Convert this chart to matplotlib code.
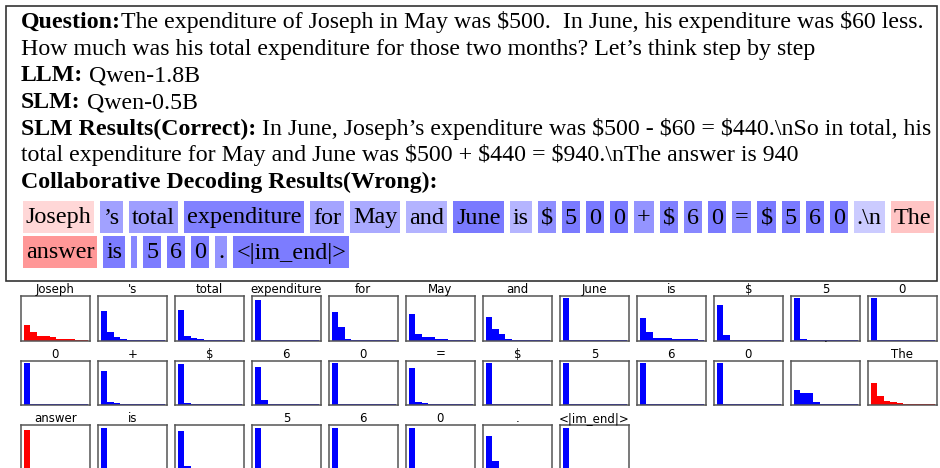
import numpy as np
import matplotlib.pyplot as plt
from matplotlib.patches import Rectangle

W, H = 940, 468
SERIF = 'Liberation Serif'

# header text
question = "The expenditure of Joseph in May was $500.  In June, his expenditure was $60 less."
question2 = "How much was his total expenditure for those two months? Let\u2019s think step by step"
llm_name = " Qwen-1.8B"
slm_name = " Qwen-0.5B"
slm_result1 = " In June, Joseph\u2019s expenditure was $500 - $60 = $440.\\nSo in total, his"
slm_result2 = "total expenditure for May and June was $500 + $440 = $940.\\nThe answer is 940"

# decoded tokens, which model produced them (L = LLM, S = SLM) and subplot titles
tokens = ["Joseph", "\u2019s", "total", "expenditure", "for", "May", "and", "June", "is",
          "$", "5", "0", "0", "+", "$", "6", "0", "=", "$", "5", "6", "0", ".\\n", "The",
          "answer", "is", " ", "5", "6", "0", ".", "<|im_end|>"]
source = "LSSSSSSSSSSSSSSSSSSSSSSLLSSSSSSS"
titles = ["Joseph", "'s", "total", "expenditure", "for", "May", "and", "June", "is",
          "$", "5", "0", "0", "+", "$", "6", "0", "=", "$", "5", "6", "0", ".\n", "The",
          "answer", "is", "", "5", "6", "0", ".", "<|im_end|>"]

# top-10 next token probabilities at every step
top10_probs = [
    [0.35, 0.19, 0.10, 0.10, 0.08, 0.03, 0.03, 0.03, 0.015, 0.015],
    [0.68, 0.19, 0.08, 0.03, 0.015, 0.015, 0.015, 0.015, 0.015, 0.015],
    [0.70, 0.10, 0.05, 0.03, 0.02, 0.015, 0.015, 0.015, 0.015, 0.015],
    [0.93, 0.015, 0.015, 0.015, 0.015, 0.015, 0.015, 0.015, 0.015, 0.015],
    [0.65, 0.31, 0.03, 0.015, 0.015, 0.015, 0.015, 0.015, 0.015, 0.015],
    [0.61, 0.15, 0.08, 0.08, 0.03, 0.03, 0.015, 0.015, 0.015, 0.015],
    [0.54, 0.26, 0.15, 0.03, 0.015, 0.015, 0.015, 0.015, 0.015, 0.015],
    [0.98, 0.015, 0.015, 0.015, 0.015, 0.015, 0.015, 0.015, 0.015, 0.015],
    [0.52, 0.19, 0.05, 0.05, 0.05, 0.03, 0.03, 0.03, 0.03, 0.015],
    [0.82, 0.12, 0.015, 0.015, 0.015, 0.015, 0.015, 0.015, 0.015, 0.015],
    [0.98, 0.025, 0.015, 0.015, 0.015, 0.015, 0.015, 0.015, 0.015, 0.015],
    [0.99, 0.015, 0.015, 0.015, 0.015, 0.015, 0.015, 0.015, 0.015, 0.015],
    [0.98, 0.015, 0.015, 0.015, 0.015, 0.015, 0.015, 0.015, 0.015, 0.015],
    [0.78, 0.08, 0.05, 0.03, 0.02, 0.02, 0.02, 0.02, 0.02, 0.015],
    [0.94, 0.05, 0.02, 0.02, 0.015, 0.015, 0.015, 0.015, 0.015, 0.015],
    [0.87, 0.12, 0.015, 0.015, 0.015, 0.015, 0.015, 0.015, 0.015, 0.015],
    [0.98, 0.015, 0.015, 0.015, 0.015, 0.015, 0.015, 0.015, 0.015, 0.015],
    [0.85, 0.08, 0.05, 0.02, 0.02, 0.015, 0.015, 0.015, 0.015, 0.015],
    [0.98, 0.025, 0.015, 0.015, 0.015, 0.015, 0.015, 0.015, 0.015, 0.015],
    [0.98, 0.03, 0.015, 0.015, 0.015, 0.015, 0.015, 0.015, 0.015, 0.015],
    [0.98, 0.015, 0.015, 0.015, 0.015, 0.015, 0.015, 0.015, 0.015, 0.015],
    [0.98, 0.015, 0.015, 0.015, 0.015, 0.015, 0.015, 0.015, 0.015, 0.015],
    [0.35, 0.28, 0.28, 0.08, 0.02, 0.015, 0.015, 0.015, 0.015, 0.015],
    [0.51, 0.21, 0.10, 0.08, 0.05, 0.03, 0.02, 0.02, 0.02, 0.02],
    [0.91, 0.02, 0.015, 0.015, 0.015, 0.015, 0.015, 0.015, 0.015, 0.015],
    [0.97, 0.015, 0.015, 0.015, 0.015, 0.015, 0.015, 0.015, 0.015, 0.015],
    [0.88, 0.09, 0.015, 0.015, 0.015, 0.015, 0.015, 0.015, 0.015, 0.015],
    [0.97, 0.015, 0.015, 0.015, 0.015, 0.015, 0.015, 0.015, 0.015, 0.015],
    [0.97, 0.015, 0.015, 0.015, 0.015, 0.015, 0.015, 0.015, 0.015, 0.015],
    [0.97, 0.015, 0.015, 0.015, 0.015, 0.015, 0.015, 0.015, 0.015, 0.015],
    [0.78, 0.19, 0.015, 0.015, 0.015, 0.015, 0.015, 0.015, 0.015, 0.015],
    [0.97, 0.015, 0.015, 0.015, 0.015, 0.015, 0.015, 0.015, 0.015, 0.015],
]

TOK_SIZE = 17.4


def shade(p, src):
    # lighter highlight for less confident tokens
    if src == 'L':
        v = 1 - 0.45 * p
        return (1, v, v)
    v = 1 - 0.5 * p - 0.03
    return (v, v, 1)


fig = plt.figure(figsize=(W / 100, H / 100), dpi=100)
canvas = fig.add_axes([0, 0, 1, 1])
canvas.set_xlim(0, W)
canvas.set_ylim(H, 0)
canvas.axis('off')
renderer = fig.canvas.get_renderer()

canvas.add_patch(Rectangle((5.5, 5.5), 931.5, 275.5, fill=False, ec='#333333', lw=1.2))


def put(x, y, s, bold=False, size=16):
    t = canvas.text(x, y, s, fontsize=size, family=SERIF, va='baseline',
                    fontweight='bold' if bold else 'normal', parse_math=False)
    return t, x + t.get_window_extent(renderer).width


lines = [
    [("Question:", True), (question, False)],
    [(question2, False)],
    [("LLM:", True), (llm_name, False)],
    [("SLM:", True), (slm_name, False)],
    [("SLM Results(Correct):", True), (slm_result1, False)],
    [(slm_result2, False)],
    [("Collaborative Decoding Results(Wrong):", True)],
]

# pick the font size that makes the first line span the same width as the original
best, best_err = 16, 1e9
for size in np.arange(15.5, 17.6, 0.1):
    x = 21
    made = []
    for s, b in lines[0]:
        t, x = put(x, 28, s, b, size)
        made.append(t)
    for t in made:
        t.remove()
    if abs(x - 925) < best_err:
        best, best_err = size, abs(x - 925)
MAIN_SIZE = best

for k, segs in enumerate(lines):
    x = 21
    for s, b in segs:
        _, x = put(x, 28 + 26.7 * k, s, b, MAIN_SIZE)

# highlighted token boxes
pad, gap, bh = 3, 6, 32
x, top = 22.7, 201
for tok, p, src in zip(tokens, top10_probs, source):
    t = canvas.text(0, 0, tok.strip(), fontsize=TOK_SIZE, family=SERIF,
                    ha='center', va='center', parse_math=False)
    w = t.get_window_extent(renderer).width if tok.strip() else 0
    bw = w + 2 * pad
    if x + bw > 936:
        x, top = 22.7, top + 35
    canvas.add_patch(Rectangle((x, top), bw, bh, fc=shade(max(p), src), ec='none'))
    t.set_position((x + bw / 2, top + bh / 2 + 1))
    x += bw + gap

# small probability histograms
for i, (ttl, p, src) in enumerate(zip(titles, top10_probs, source)):
    r, c = divmod(i, 12)
    left = 20.7 + 77 * c
    top = 296 + 64.5 * r
    ax = fig.add_axes([left / W, 1 - (top + 44.5) / H, 69.3 / W, 44.5 / H])
    ax.bar(range(10), p, width=1.0, color='red' if src == 'L' else 'blue')
    ax.set_xlim(-1, 9.75)
    ax.set_ylim(0, 1.03)
    ax.set_xticks([])
    ax.set_yticks([])
    for sp in ax.spines.values():
        sp.set_color('#555555')
        sp.set_linewidth(1.1)
    ax.set_title(ttl, fontsize=8.5, pad=1.2)

fig.savefig('out.png', dpi=100)
